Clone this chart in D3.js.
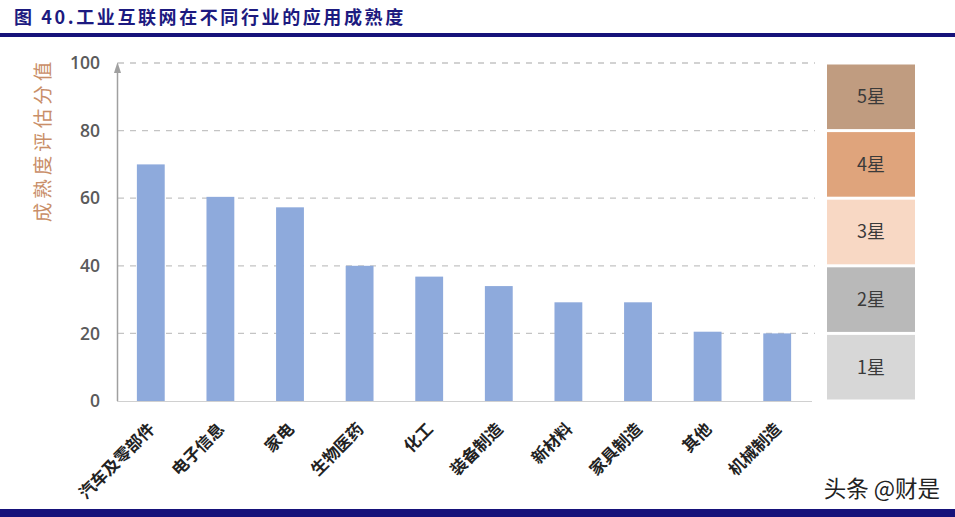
<!DOCTYPE html>
<html><head><meta charset="utf-8">
<script src="https://cdn.jsdelivr.net/npm/d3@7"></script>
<style>body{margin:0;background:#fff;}svg{display:block;}</style>
</head><body>
<svg id="c" width="955" height="517"></svg>
<script>
const categories = ["汽车及零部件","电子信息","家电","生物医药","化工","装备制造","新材料","家具制造","其他","机械制造"];
const values = [70, 60.4, 57.3, 40, 36.8, 34, 29.2, 29.2, 20.5, 20];
const yTicks = [0,20,40,60,80,100];
const starLabels = ["1星","2星","3星","4星","5星"];
const starColors = ["#d7d7d7","#b9b9b9","#f8d8c4","#dfa47c","#c09c80"];

const svg = d3.select("#c");
const W = 955, H = 517;

// title
svg.append("text").attr("x",14).attr("y",24)
  .attr("font-family","'Noto Sans CJK SC','Liberation Serif',serif").attr("font-weight","bold")
  .attr("font-size",18).attr("letter-spacing",2.6).attr("fill","#1c1a80")
  .text("图 40.工业互联网在不同行业的应用成熟度");
svg.append("rect").attr("x",0).attr("y",33).attr("width",W).attr("height",4).attr("fill","#16127a");
svg.append("rect").attr("x",0).attr("y",509).attr("width",W).attr("height",8).attr("fill","#16127a");

const y = d3.scaleLinear().domain([0,100]).range([401,63]);
const x = d3.scaleBand().domain(categories).range([116,812]).paddingInner(0.6).paddingOuter(0.3);

// gridlines
svg.append("g").selectAll("line").data(yTicks.filter(d=>d>0)).join("line")
  .attr("x1",118).attr("x2",815).attr("y1",d=>y(d)).attr("y2",d=>y(d))
  .attr("stroke","#c4c4c4").attr("stroke-width",1.3).attr("stroke-dasharray","6,6");

// y axis
const yAxis = d3.axisLeft(y).tickValues(yTicks).tickSize(0).tickPadding(17);
const ga = svg.append("g").attr("transform","translate(117,0)").call(yAxis);
ga.select(".domain").remove();
ga.selectAll("text").attr("font-family","'Open Sans','DejaVu Sans',sans-serif").attr("font-size",17.5)
  .attr("font-weight",600).attr("fill","#5a5a5a");
svg.append("line").attr("x1",117.5).attr("x2",117.5).attr("y1",68).attr("y2",401).attr("stroke","#a0a0a0").attr("stroke-width",1.5);
svg.append("path").attr("d","M117.5,62 L114,73 L121,73 Z").attr("fill","#a0a0a0");
svg.append("line").attr("x1",117).attr("x2",812).attr("y1",401.5).attr("y2",401.5).attr("stroke","#d0d0d0").attr("stroke-width",1);

// y title
svg.append("text").attr("transform","translate(50,140) rotate(-90)").attr("text-anchor","middle")
  .attr("font-family","'Noto Sans CJK SC',sans-serif").attr("font-size",19.5).attr("letter-spacing",4)
  .attr("fill","#c98e68").text("成熟度评估分值");

// bars
svg.append("g").selectAll("rect").data(values).join("rect")
  .attr("x",(d,i)=>x(categories[i])).attr("width",x.bandwidth())
  .attr("y",d=>y(d)).attr("height",d=>y(0)-y(d)).attr("fill","#8eaadc");

// x labels
svg.append("g").selectAll("text").data(categories).join("text")
  .attr("transform",d=>`translate(${x(d)+x.bandwidth()/2+1},${426}) rotate(-45)`)
  .attr("text-anchor","end").attr("dy","0.35em")
  .attr("font-family","'Noto Sans CJK SC',sans-serif").attr("font-weight","bold")
  .attr("font-size",16.5).attr("fill","#222").text(d=>d);

// star boxes
const sb = svg.append("g");
starLabels.forEach((s,i)=>{
  const top = y((i+1)*20)+1.5, bot = y(i*20)-1.5;
  sb.append("rect").attr("x",827).attr("y",top).attr("width",88).attr("height",bot-top).attr("fill",starColors[i]);
  sb.append("text").attr("x",871).attr("y",(top+bot)/2).attr("dy","0.35em").attr("text-anchor","middle")
    .attr("font-family","'Noto Sans CJK SC',sans-serif").attr("font-size",18).attr("fill","#3a3a3a").text(s);
});

// watermark
svg.append("text").attr("x",940).attr("y",497).attr("text-anchor","end")
  .attr("font-family","'Noto Sans CJK SC',sans-serif").attr("font-size",22.5)
  .attr("fill","#222").attr("stroke","#fff").attr("stroke-width",3).attr("paint-order","stroke")
  .text("头条 @财是");
</script>
</body></html>
